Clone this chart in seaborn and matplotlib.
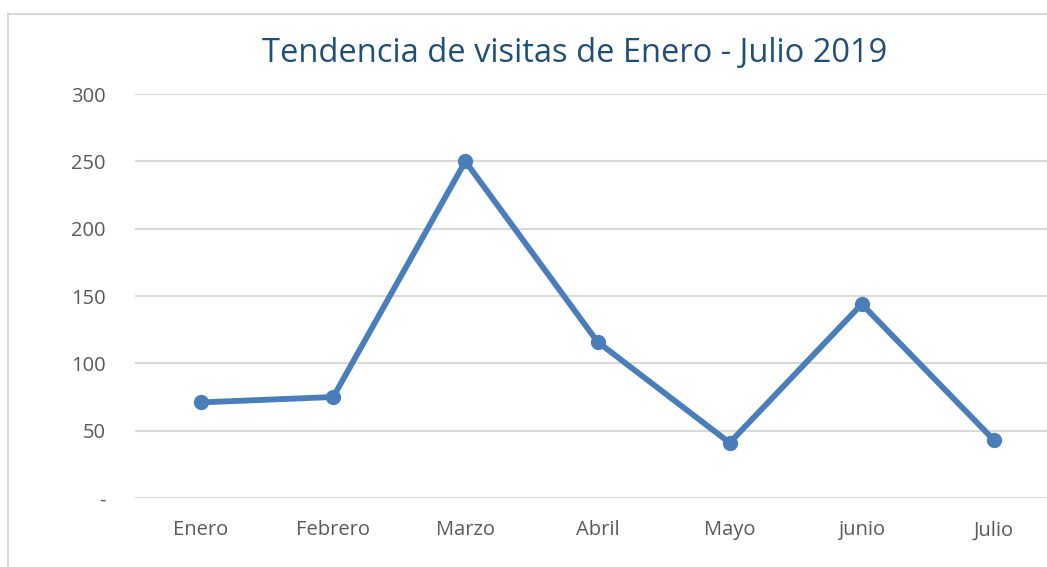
import numpy as np
import pandas as pd
import seaborn as sns
from matplotlib import pyplot as plt
from matplotlib.patches import Rectangle

sns.set_style("white")
plt.rcParams['font.family'] = ['Open Sans', 'DejaVu Sans']

# datos de visitas por mes
meses = ["Enero", "Febrero", "Marzo", "Abril", "Mayo", "junio", "Julio"]
visitas = [71, 75, 250, 116, 41, 144, 43]
y_ticks = [0, 50, 100, 150, 200, 250, 300]
y_labels = ["-", "50", "100", "150", "200", "250", "300"]

df = pd.DataFrame({"mes": meses, "visitas": visitas})

fig = plt.figure(figsize=(10.47, 5.67), dpi=100)
ax = fig.add_axes([135 / 1047, 1 - 498 / 567, 925 / 1047, 404 / 567])

# marco del grafico
fig.patches.append(Rectangle((8 / 1047, -0.1), 1.2, 1 - 14 / 567 + 0.1,
                             transform=fig.transFigure, fill=False,
                             edgecolor="#D9D9D9", linewidth=1.5))

sns.lineplot(x="mes", y="visitas", data=df, ax=ax, sort=False,
             color="#4A7EBB", linewidth=4.2, marker="o", markersize=11,
             markeredgewidth=0)

ax.set_xlim(-0.5, 6.5)
ax.set_ylim(0, 300)
ax.set_yticks(y_ticks)
ax.set_yticklabels(y_labels)
ax.yaxis.grid(True, color="#D9D9D9", linewidth=1.5)
ax.set_axisbelow(True)
for s in ax.spines.values():
    s.set_visible(False)
ax.tick_params(axis="both", length=0, labelsize=14.5, labelcolor="#595959")
ax.tick_params(axis="y", pad=21)
ax.tick_params(axis="x", pad=16)
ax.set_xlabel("")
ax.set_ylabel("")

fig.text(575 / 1047, 1 - 54 / 567, "Tendencia de visitas de Enero - Julio 2019",
         ha="center", va="center", fontsize=23.5, color="#1F4E79")

fig.savefig("out.png", dpi=100)
